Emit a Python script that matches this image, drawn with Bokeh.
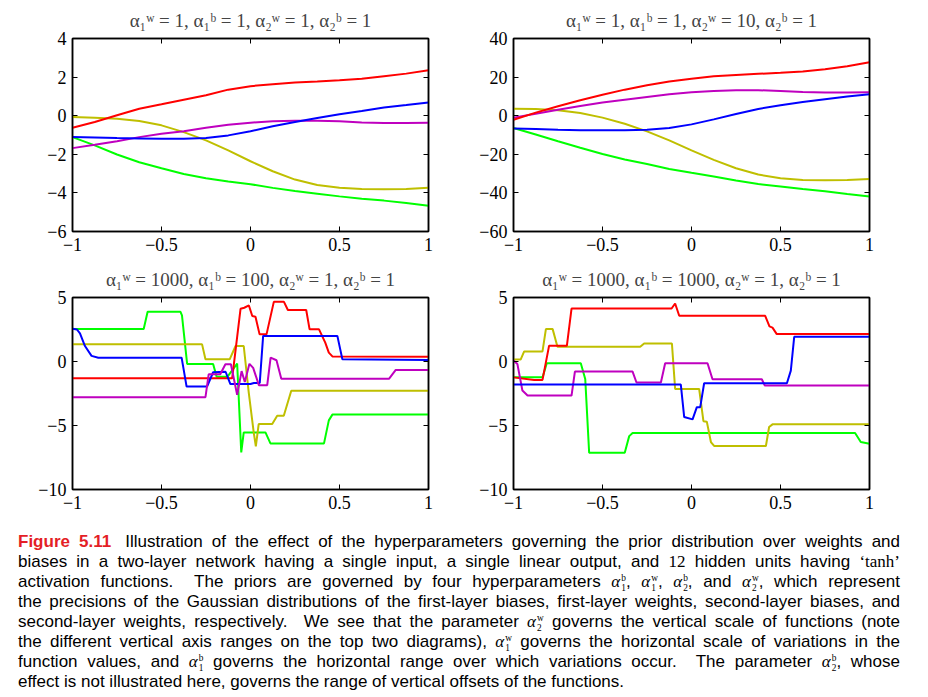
from bokeh.plotting import figure
from bokeh.layouts import column, row
from bokeh.models import Div, LinearAxis, FixedTicker, Range1d
from bokeh.embed import file_html
from bokeh.resources import INLINE

# ---------------- data ----------------
x_tick_vals = [-1, -0.5, 0, 0.5, 1]
x_tick_labels = ["\u22121", "\u22120.5", "0", "0.5", "1"]

tl_ticks = [-6, -4, -2, 0, 2, 4]
tl_labels = ["\u22126", "\u22124", "\u22122", "0", "2", "4"]
tr_ticks = [-60, -40, -20, 0, 20, 40]
tr_labels = ["\u221260", "\u221240", "\u221220", "0", "20", "40"]
b_ticks = [-10, -5, 0, 5]
b_labels = ["\u221210", "\u22125", "0", "5"]

titles = [
    "\u03b1\u2081\u02b7 = 1, \u03b1\u2081\u1d47 = 1, \u03b1\u2082\u02b7 = 1, \u03b1\u2082\u1d47 = 1",
    "\u03b1\u2081\u02b7 = 1, \u03b1\u2081\u1d47 = 1, \u03b1\u2082\u02b7 = 10, \u03b1\u2082\u1d47 = 1",
    "\u03b1\u2081\u02b7 = 1000, \u03b1\u2081\u1d47 = 100, \u03b1\u2082\u02b7 = 1, \u03b1\u2082\u1d47 = 1",
    "\u03b1\u2081\u02b7 = 1000, \u03b1\u2081\u1d47 = 1000, \u03b1\u2082\u02b7 = 1, \u03b1\u2082\u1d47 = 1",
]

# top panels: common x samples
x_top = [-1, -0.875, -0.75, -0.625, -0.5, -0.375, -0.25, -0.125, 0,
         0.125, 0.25, 0.375, 0.5, 0.625, 0.75, 0.875, 1]

tl_red = [-0.62, -0.33, 0.02, 0.36, 0.59, 0.83, 1.06, 1.35, 1.53, 1.63, 1.72, 1.77, 1.84, 1.92, 2.05, 2.18, 2.36]
tl_blue = [-1.11, -1.13, -1.16, -1.18, -1.2, -1.2, -1.16, -1.02, -0.81, -0.55, -0.33, -0.12, 0.07, 0.24, 0.42, 0.55, 0.69]
tl_magenta = [-1.68, -1.51, -1.32, -1.11, -0.94, -0.8, -0.62, -0.47, -0.36, -0.29, -0.26, -0.26, -0.29, -0.35, -0.38, -0.38, -0.36]
tl_olive = [-0.07, -0.1, -0.16, -0.28, -0.5, -0.85, -1.28, -1.8, -2.36, -2.88, -3.31, -3.59, -3.73, -3.8, -3.81, -3.8, -3.73]
tl_green = [-1.11, -1.54, -2.01, -2.41, -2.72, -3.02, -3.24, -3.41, -3.55, -3.74, -3.9, -4.04, -4.18, -4.3, -4.4, -4.52, -4.66]

tr_red = [-2.1, 1.6, 4.9, 8.0, 10.9, 13.5, 15.8, 17.7, 19.2, 20.5, 21.1, 21.7, 22.2, 22.9, 24.1, 25.6, 27.7]
tr_magenta = [-1.0, 1.0, 3.1, 5.0, 6.8, 8.3, 9.7, 11.1, 12.1, 12.8, 13.2, 13.2, 12.8, 12.3, 12.0, 12.0, 12.1]
tr_blue = [-6.6, -6.9, -7.3, -7.5, -7.5, -7.5, -7.3, -6.4, -4.5, -1.9, 0.9, 3.5, 5.4, 7.1, 8.5, 9.9, 11.1]
tr_olive = [3.6, 3.5, 2.8, 1.4, -1.0, -4.2, -8.1, -12.8, -18.0, -22.9, -27.2, -30.5, -32.4, -33.3, -33.4, -33.3, -32.8]
tr_green = [-6.4, -9.7, -13.2, -16.6, -19.8, -22.7, -25.0, -27.6, -29.6, -31.5, -33.6, -35.4, -36.7, -38.0, -39.2, -40.6, -41.9]

# bottom-left panel (alpha1w=1000, alpha1b=100)
bl_green_x = [-1, -0.60, -0.578, -0.394, -0.385, -0.356, -0.21, -0.19, -0.13, -0.075, -0.052, -0.038, 0.084, 0.112, 0.413, 0.44, 0.46, 1]
bl_green_y = [2.54, 2.54, 3.89, 3.89, 3.6, -0.19, -0.19, -1.2, -1.2, -0.16, -7.1, -5.54, -5.54, -6.4, -6.4, -4.6, -4.15, -4.15]
bl_blue_x = [-1, -0.975, -0.958, -0.93, -0.893, -0.855, -0.387, -0.359, -0.244, -0.21, -0.14, -0.113, 0.0, 0.019, 0.052, 0.071, 0.488, 0.516, 1]
bl_blue_y = [2.56, 2.5, 2.2, 1.21, 0.44, 0.3, 0.3, -1.96, -1.96, -0.84, -0.8, -1.76, -1.76, -1.68, -1.68, 2.0, 2.0, 0.17, 0.12]
bl_red_x = [-1, -0.103, -0.056, -0.035, -0.009, 0.01, 0.028, 0.051, 0.09, 0.131, 0.188, 0.21, 0.313, 0.332, 0.385, 0.42, 0.44, 0.46, 1]
bl_red_y = [-1.31, -1.31, 4.12, 4.2, 4.38, 3.55, 3.5, 2.12, 2.12, 4.66, 4.66, 4.02, 4.02, 2.51, 2.51, 1.47, 0.69, 0.4, 0.38]
bl_olive_x = [-1, -0.272, -0.253, -0.117, -0.084, -0.038, -0.01, 0.018, 0.03, 0.046, 0.122, 0.15, 0.187, 0.229, 1]
bl_olive_y = [1.34, 1.34, 0.17, 0.17, 1.21, 1.21, -2.42, -5.54, -6.63, -4.89, -4.89, -4.24, -4.24, -2.29, -2.29]
bl_magenta_x = [-1, -0.253, -0.235, -0.17, -0.141, -0.11, -0.075, -0.05, -0.032, -0.006, 0.015, 0.047, 0.094, 0.113, 0.146, 0.173, 0.779, 0.816, 1]
bl_magenta_y = [-2.79, -2.79, -1.0, -1.0, -0.22, -0.22, -2.6, -0.75, -1.6, -0.18, -0.5, -1.85, -1.85, 0.3, 0.1, -1.34, -1.34, -0.66, -0.66]

# bottom-right panel (alpha1w=1000, alpha1b=1000)
br_red_x = [-1, -0.884, -0.837, -0.80, -0.70, -0.674, -0.112, -0.092, -0.069, 0.414, 0.438, 0.455, 0.479, 1]
br_red_y = [-1.24, -1.44, -1.44, 1.24, 1.24, 4.14, 4.14, 4.53, 3.57, 3.57, 2.74, 2.65, 2.14, 2.14]
br_olive_x = [-1, -0.96, -0.94, -0.837, -0.818, -0.78, -0.753, -0.288, -0.266, -0.11, -0.092, 0.043, 0.067, 0.086, 0.109, 0.127, 0.418, 0.436, 0.455, 1]
br_olive_y = [0.15, 0.15, 0.79, 0.79, 2.53, 2.53, 1.15, 1.15, 1.41, 1.41, -2.14, -2.14, -4.66, -4.7, -6.29, -6.6, -6.6, -5.12, -4.91, -4.91]
br_green_x = [-1, -0.837, -0.813, -0.622, -0.597, -0.575, -0.375, -0.35, -0.331, 0.919, 0.951, 1]
br_green_y = [-1.24, -1.24, -0.14, -0.14, -1.36, -7.12, -7.12, -5.83, -5.59, -5.59, -6.29, -6.42]
br_magenta_x = [-1, -0.978, -0.95, -0.921, -0.674, -0.655, -0.331, -0.309, -0.172, -0.148, 0.09, 0.118, 0.395, 0.412, 1]
br_magenta_y = [0.07, -0.2, -2.27, -2.66, -2.66, -0.79, -0.79, -1.64, -1.64, -0.14, -0.14, -1.39, -1.39, -1.88, -1.88]
br_blue_x = [-1, -0.06, -0.041, 0.006, 0.03, 0.049, 0.071, 0.536, 0.558, 0.577, 1]
br_blue_y = [-1.8, -1.8, -4.34, -4.52, -3.57, -3.57, -1.7, -1.7, -0.71, 1.93, 1.93]

RED, GREEN, BLUE = "#ff0000", "#00ff00", "#0000ff"
MAGENTA, OLIVE = "#bf00bf", "#bfbf00"
SERIF = "Liberation Serif"


def style_axis(ax, ticks, labels, show_labels=True):
    ax.ticker = FixedTicker(ticks=ticks, minor_ticks=[])
    ax.major_tick_in = 5
    ax.major_tick_out = 0
    ax.major_tick_line_color = "black"
    ax.major_tick_line_width = 1
    ax.minor_tick_line_color = None
    ax.axis_line_color = "black"
    ax.axis_line_width = 1.5
    ax.major_label_text_font = SERIF
    ax.major_label_text_font_size = "18px"
    ax.major_label_text_color = "black"
    if show_labels:
        ax.major_label_overrides = dict(zip([float(t) for t in ticks], labels))
        ax.major_label_standoff = 6
    else:
        ax.major_label_overrides = {float(t): "" for t in ticks}
        ax.major_label_standoff = 0
        ax.major_label_text_font_size = "0px"


def panel(title, yr, yticks, ylabels, width, height, left, top, standoff, series):
    p = figure(width=width, height=height, x_range=Range1d(-1, 1), y_range=Range1d(*yr),
               toolbar_location=None, output_backend="svg", title=title,
               min_border_left=left, min_border_right=20, min_border_top=top, min_border_bottom=27)
    p.grid.visible = False
    p.outline_line_color = "black"
    p.outline_line_width = 1.5
    p.title.text_font = SERIF
    p.title.text_font_size = "19px"
    p.title.text_font_style = "normal"
    p.title.align = "center"
    p.title.standoff = standoff
    style_axis(p.xaxis[0], x_tick_vals, x_tick_labels)
    style_axis(p.yaxis[0], yticks, ylabels)
    ax_top = LinearAxis()
    style_axis(ax_top, x_tick_vals, x_tick_labels, show_labels=False)
    p.add_layout(ax_top, "above")
    ax_r = LinearAxis()
    style_axis(ax_r, yticks, ylabels, show_labels=False)
    p.add_layout(ax_r, "right")
    for xs, ys, c in series:
        p.line(xs, ys, line_color=c, line_width=2)
    return p


p1 = panel(titles[0], (-6, 4), tl_ticks, tl_labels, 448, 258, 72, 38, 15, [
    (x_top, tl_green, GREEN), (x_top, tl_olive, OLIVE), (x_top, tl_magenta, MAGENTA),
    (x_top, tl_blue, BLUE), (x_top, tl_red, RED)])
p2 = panel(titles[1], (-60, 40), tr_ticks, tr_labels, 441, 258, 65, 38, 15, [
    (x_top, tr_green, GREEN), (x_top, tr_olive, OLIVE), (x_top, tr_magenta, MAGENTA),
    (x_top, tr_blue, BLUE), (x_top, tr_red, RED)])
p3 = panel(titles[2], (-10, 5), b_ticks, b_labels, 448, 258, 72, 39, 15, [
    (bl_green_x, bl_green_y, GREEN), (bl_olive_x, bl_olive_y, OLIVE),
    (bl_red_x, bl_red_y, RED), (bl_blue_x, bl_blue_y, BLUE), (bl_magenta_x, bl_magenta_y, MAGENTA)])
p4 = panel(titles[3], (-10, 5), b_ticks, b_labels, 441, 258, 65, 39, 15, [
    (br_green_x, br_green_y, GREEN), (br_olive_x, br_olive_y, OLIVE),
    (br_red_x, br_red_y, RED), (br_magenta_x, br_magenta_y, MAGENTA), (br_blue_x, br_blue_y, BLUE)])


def alpha(sup, sub):
    return ('<span style="font-family:\'Liberation Serif\';font-style:italic;">\u03b1</span>'
            '<span style="display:inline-block;vertical-align:-0.42em;line-height:1.02em;margin-left:1px;'
            'font-size:0.55em;font-family:\'Liberation Serif\';text-align:left;">'
            + sup + '<br>' + sub + '</span>')


cap_lines = [
    '<span style="color:#e41e26;font-weight:bold;margin-right:14px;">Figure 5.11</span>'
    'Illustration of the effect of the hyperparameters governing the prior distribution over weights and',
    'biases in a two-layer network having a single input, a single linear output, and '
    '<span style="font-family:\'Liberation Serif\';">12</span> hidden units having '
    '<span style="font-family:\'Liberation Serif\';">\u2018tanh\u2019</span>',
    'activation functions.&nbsp; The priors are governed by four hyperparameters '
    + alpha('b', '1') + ', ' + alpha('w', '1') + ', ' + alpha('b', '2') + ', and ' + alpha('w', '2')
    + ', which represent',
    'the precisions of the Gaussian distributions of the first-layer biases, first-layer weights, second-layer biases, and',
    'second-layer weights, respectively.&nbsp; We see that the parameter ' + alpha('w', '2')
    + ' governs the vertical scale of functions (note',
    'the different vertical axis ranges on the top two diagrams), ' + alpha('w', '1')
    + ' governs the horizontal scale of variations in the',
    'function values, and ' + alpha('b', '1') + ' governs the horizontal range over which variations occur.&nbsp; The parameter '
    + alpha('b', '2') + ', whose',
    'effect is not illustrated here, governs the range of vertical offsets of the functions.',
]

line_divs = []
for i, ln in enumerate(cap_lines):
    last = i == len(cap_lines) - 1
    align = "text-align:left;" if last else "text-align:justify;text-align-last:justify;"
    line_divs.append('<div style="height:20px;line-height:20px;white-space:normal;' + align + '">' + ln + '</div>')

cap_html = ('<div style="box-sizing:content-box;padding:11px 0 0 13px;width:882px;'
            'font-family:\'Liberation Sans\',Arial,sans-serif;'
            'font-size:17px;color:#000;">' + ''.join(line_divs) + '</div>')
caption = Div(text=cap_html, width=910, height=168)

layout = column(row(p1, p2), row(p3, p4), caption)

open("out.html", "w").write(file_html(layout, INLINE))
